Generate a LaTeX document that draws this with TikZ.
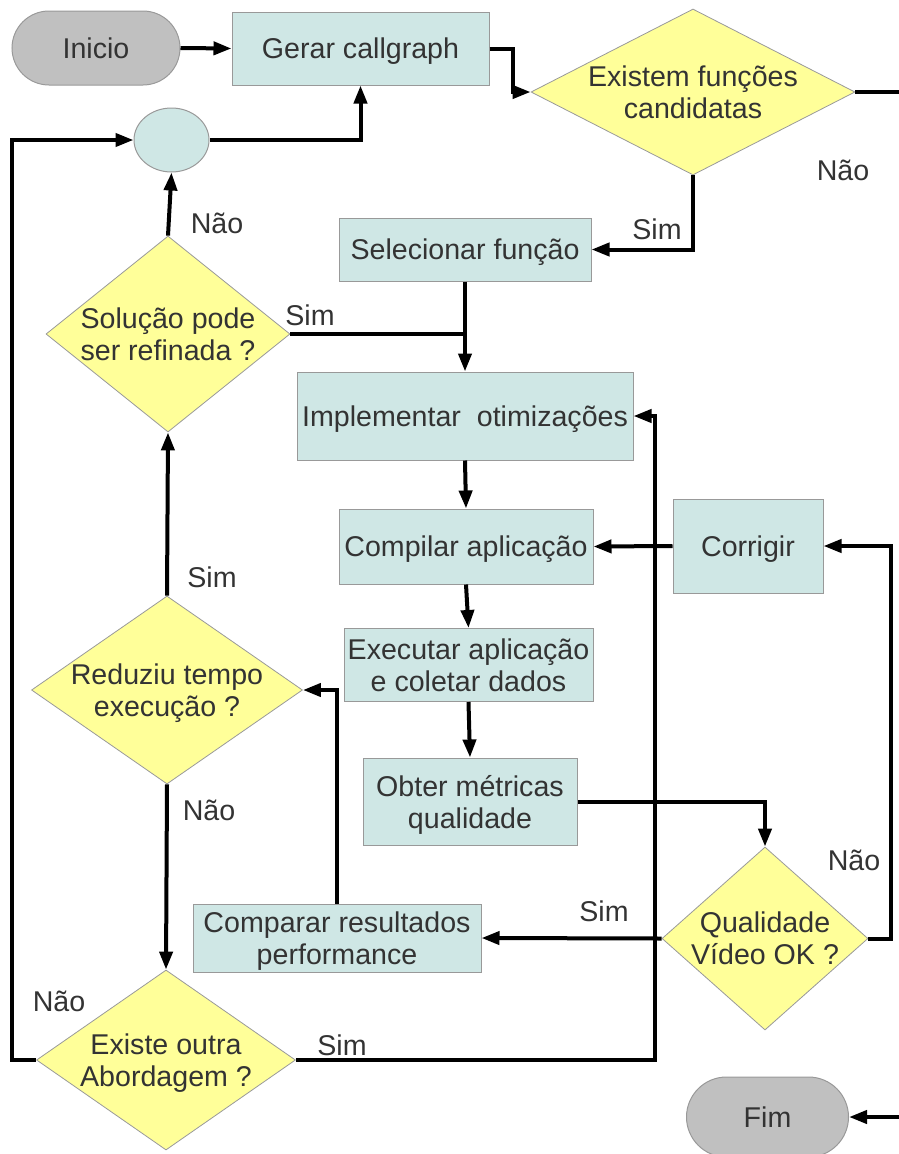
\documentclass[tikz,border=0pt]{standalone}
\usepackage{fontspec}
\setmainfont{Liberation Sans}
\usetikzlibrary{shapes.geometric,arrows.meta}
\definecolor{boxfill}{HTML}{CFE7E5}
\definecolor{decfill}{HTML}{FFFF99}
\definecolor{termfill}{HTML}{C0C0C0}
\definecolor{edgegray}{HTML}{999999}
\definecolor{txtgray}{HTML}{333333}

\begin{document}
\begin{tikzpicture}[x=1pt,y=-1pt,
  every node/.style={font=\fontsize{28.6}{32}\selectfont,text=txtgray,align=center,text depth=0pt},
  proc/.style={rectangle,draw=edgegray,line width=1pt,fill=boxfill,inner sep=0pt},
  decision/.style={diamond,draw=edgegray,line width=.8pt,fill=decfill,inner sep=-4pt},
  term/.style={rectangle,rounded corners=37pt,draw=edgegray,line width=1pt,fill=termfill,minimum width=168pt,minimum height=74pt},
  flow/.style={line width=4pt,-{Triangle[length=18pt,width=13pt]}},
  plain/.style={line width=4pt}]
\useasboundingbox (0,0) rectangle (899,1154);
\node[term] (start) at (96,48) {Inicio};
\node[proc,minimum width=257pt,minimum height=73pt] (gerar) at (360.5,48.5) {Gerar callgraph};
\node[decision,minimum width=324pt,minimum height=166pt,aspect=1.95] (cand) at (693,92) {Existem funções\\candidatas};
\node[ellipse,draw=edgegray,line width=1pt,fill=boxfill,minimum width=75pt,minimum height=64pt] (merge) at (171.5,140) {};
\node[proc,minimum width=252pt,minimum height=63pt] (sel) at (465,249.5) {Selecionar função};
\node[decision,minimum width=244pt,minimum height=196pt,aspect=1.25] (refine) at (168,334) {Solução pode\\ser refinada ?};
\node[proc,minimum width=336pt,minimum height=88pt] (impl) at (465,416) {Implementar~ otimizações};
\node[proc,minimum width=254pt,minimum height=75pt] (comp) at (466,546.5) {Compilar aplicação};
\node[proc,minimum width=150pt,minimum height=94pt] (fix) at (748,546) {Corrigir};
\node[proc,minimum width=249pt,minimum height=73pt] (exec) at (468.5,665) {Executar aplicação\\e coletar dados};
\node[proc,minimum width=214pt,minimum height=87pt] (metric) at (470,801.5) {Obter métricas\\qualidade};
\node[decision,minimum width=206pt,minimum height=183pt,aspect=1.12] (quality) at (765,938.5) {Qualidade\\Vídeo OK ?};
\node[proc,minimum width=288pt,minimum height=68pt] (cmp) at (337,938) {Comparar resultados\\performance};
\node[decision,minimum width=271pt,minimum height=188pt,aspect=1.44] (faster) at (167,690) {Reduziu tempo\\execução ?};
\node[decision,minimum width=259pt,minimum height=180pt,aspect=1.44] (other) at (166,1060) {Existe outra\\Abordagem ?};
\node[term,minimum width=162pt,minimum height=80pt,rounded corners=40pt] (fim) at (767.5,1117) {Fim};
\node (nao1) at (843,170) {Não};
\node (sim1) at (657,229) {Sim};
\node (nao2) at (217,223) {Não};
\node (sim2) at (310,315) {Sim};
\node (sim3) at (212,577) {Sim};
\node (nao3) at (209,810) {Não};
\node (nao4) at (854,860) {Não};
\node (sim4) at (604,911) {Sim};
\node (nao5) at (59,1001) {Não};
\node (sim5) at (342,1045) {Sim};
\coordinate (exitR) at (899,92);
\coordinate (fimIn) at (899,1117);
\draw[flow] (start.east) -- (gerar.west);
\draw[flow] (gerar.east) -- ++(23,0) |- (cand.west);
\draw[plain] (cand.east) -- (exitR);
\draw[flow] (cand.south) |- (sel.east);
\draw[flow] (merge.east) -| (gerar.south);
\draw[flow] (refine.north) -- (merge.south);
\draw[plain] (refine.east) -- (refine.east -| sel.south);
\draw[flow] (sel.south) -- (impl.north);
\draw[flow] (impl.south) -- (comp.north);
\draw[flow] (fix.west) -- (comp.east);
\draw[flow] (comp.south) -- (exec.north);
\draw[flow] (exec.south) -- (metric.north);
\draw[flow] (metric.east) -| (quality.north);
\draw[flow] (quality.east) -- ++(23,0) |- (fix.east);
\draw[flow] (quality.west) -- (cmp.east);
\draw[flow] (cmp.north) |- (faster.east);
\draw[flow] (faster.north) -- (refine.south);
\draw[flow] (faster.south) -- (other.north);
\draw[flow] (other.east) -- ++(359,0) |- (impl.east);
\draw[flow] (other.west) -- ++(-24,0) |- (merge.west);
\draw[flow] (fimIn) -- (fim.east);
\end{tikzpicture}
\end{document}
